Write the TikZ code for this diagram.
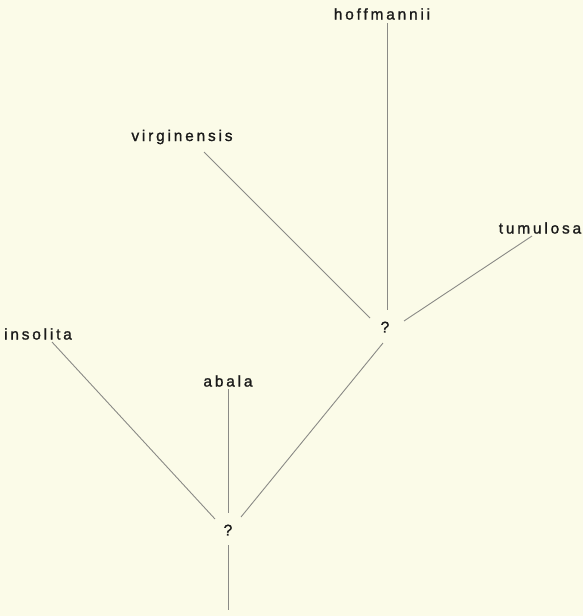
\documentclass[tikz,border=0pt]{standalone}
\usepackage{fontspec}
\setmainfont[LetterSpace=18,FakeBold=1.2]{Liberation Sans}
\definecolor{paper}{HTML}{FBFBE8}
\definecolor{ink}{HTML}{1A1A1A}
\definecolor{linec}{HTML}{8A8A86}
\begin{document}
\begin{tikzpicture}[x=1pt,y=-1pt,
  taxon/.style={font=\fontsize{15.5}{17}\selectfont, text=ink, inner sep=0pt, anchor=center},
  qmark/.style={font=\fontsize{15.5}{17}\selectfont, text=ink, inner sep=0pt, anchor=center},
  branch/.style={draw=linec, line width=0.9pt}]
\fill[paper] (0,0) rectangle (583,616);
\useasboundingbox (0,0) rectangle (583,616);
% labels
\node[taxon] (hoff) at (382,14) {hoffmannii};
\node[taxon] (virg) at (182,137) {virginensis};
\node[taxon] (tumu) at (540,228) {tumulosa};
\node[taxon] (inso) at (38,334) {insolita};
\node[taxon] (abal) at (228,381) {abala};
\node[qmark] (q1) at (385,327) {?};
\node[qmark] (q2) at (228,530) {?};
% endpoints
\coordinate (h1) at (387,23);   \coordinate (h2) at (387,310);
\coordinate (v1) at (204,152);  \coordinate (v2) at (370,318);
\coordinate (t1) at (532,236);  \coordinate (t2) at (404,321);
\coordinate (r1) at (383,343);  \coordinate (r2) at (241,517);
\coordinate (i1) at (52,342);   \coordinate (i2) at (215,519);
\coordinate (a1) at (228,389);  \coordinate (a2) at (228,513);
\coordinate (b1) at (228,545);  \coordinate (b2) at (228,610);
% branches
\draw[branch] (h1) -- (h2);
\draw[branch] (v1) -- (v2);
\draw[branch] (t1) -- (t2);
\draw[branch] (r1) -- (r2);
\draw[branch] (i1) -- (i2);
\draw[branch] (a1) -- (a2);
\draw[branch] (b1) -- (b2);
\end{tikzpicture}
\end{document}
